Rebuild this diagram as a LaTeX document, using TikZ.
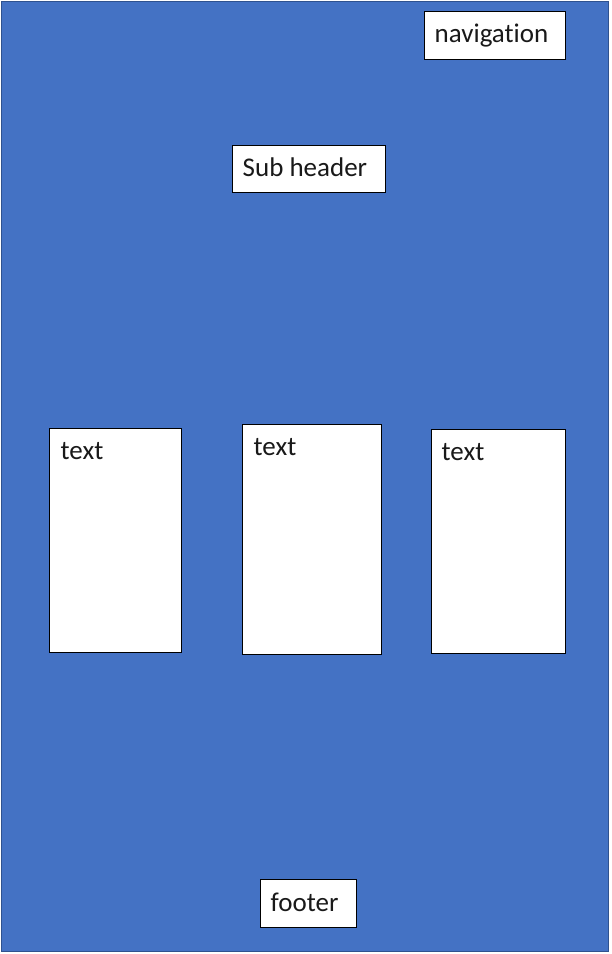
\documentclass[tikz,border=0pt]{standalone}
\usepackage{fontspec}
\setmainfont{Carlito}[Ligatures=NoCommon]
\usetikzlibrary{calc}
\definecolor{bgblue}{HTML}{4472C4}
\definecolor{bgedge}{HTML}{2F528F}
\tikzset{
  panel/.style={draw=black, line width=1pt, fill=white, anchor=north west, inner sep=0pt, outer sep=0pt},
  lbl/.style={anchor=base west, inner sep=0pt, font=\fontsize{27}{32}\selectfont, text=black!90}
}
\begin{document}
\begin{tikzpicture}[x=1pt,y=-1pt]
\useasboundingbox (0,0) rectangle (612,954);
\node[draw=bgedge, fill=bgblue, line width=1pt, anchor=north west, inner sep=0pt, minimum width=607pt, minimum height=950pt] (bg) at (0.5,0.5) {};
\node[panel, minimum width=141pt, minimum height=48pt] (nav) at (424.5,11.5) {};
\node[panel, minimum width=153pt, minimum height=47pt] (sub) at (232.5,145.5) {};
\node[panel, minimum width=132pt, minimum height=224pt] (t1) at (49.5,428.5) {};
\node[panel, minimum width=139pt, minimum height=230pt] (t2) at (242.5,424.5) {};
\node[panel, minimum width=134pt, minimum height=224pt] (t3) at (431.5,429.5) {};
\node[panel, minimum width=96pt, minimum height=48pt] (foot) at (260.5,879.5) {};
\node[lbl] (navl) at ($(nav.north west)+(10,31)$) {navigation};
\node[lbl] (subl) at ($(sub.north west)+(10,31)$) {Sub header};
\node[lbl] (t1l) at ($(t1.north west)+(11,30.5)$) {text};
\node[lbl] (t2l) at ($(t2.north west)+(11,30.5)$) {text};
\node[lbl] (t3l) at ($(t3.north west)+(10,30.5)$) {text};
\node[lbl] (footl) at ($(foot.north west)+(10,32)$) {footer};
\end{tikzpicture}
\end{document}
